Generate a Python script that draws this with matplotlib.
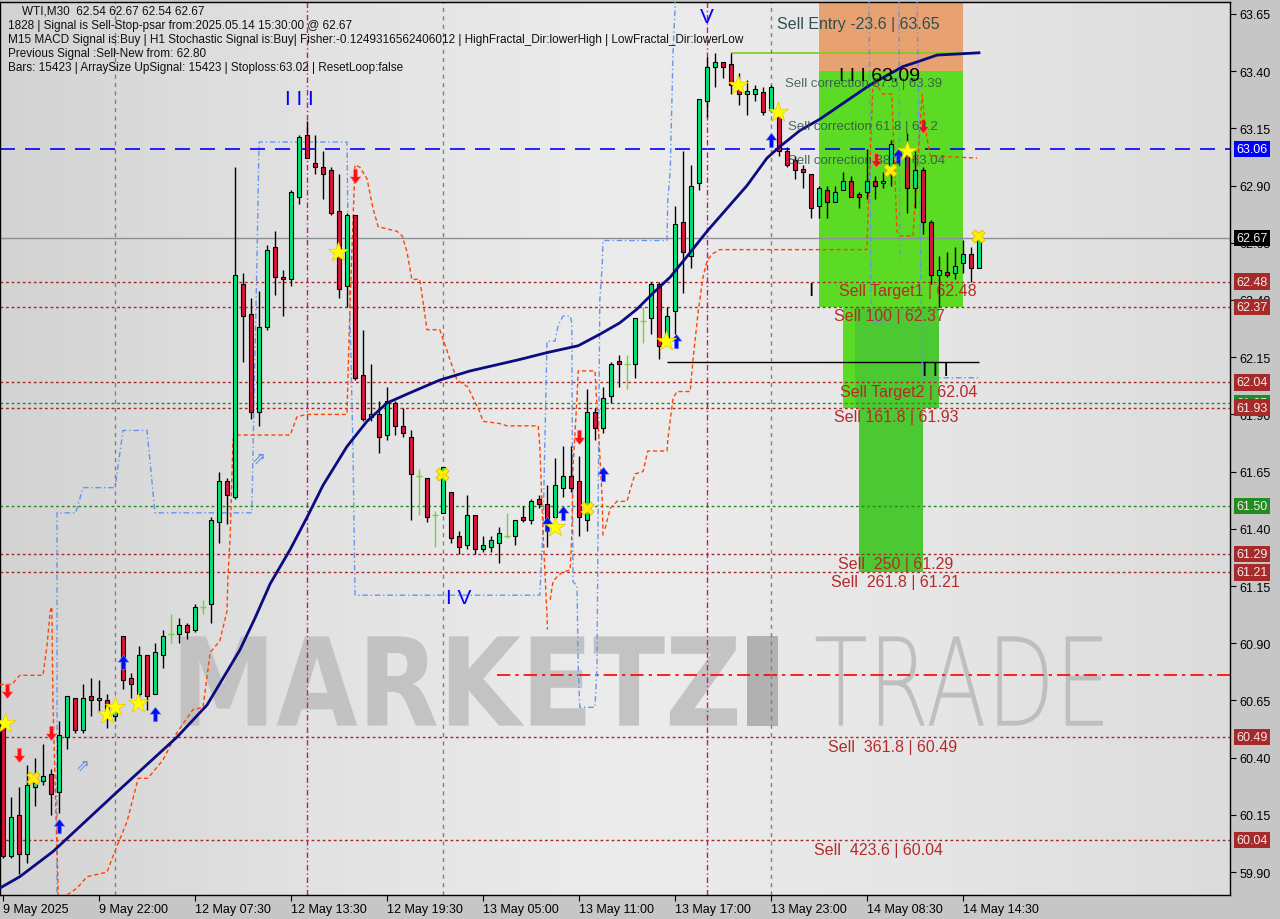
import matplotlib
matplotlib.use("Agg")
import matplotlib.pyplot as plt
import matplotlib.transforms as mtransforms
from matplotlib.patches import Rectangle, PathPatch
from matplotlib.textpath import TextPath
from matplotlib.font_manager import FontProperties
from matplotlib.colors import LinearSegmentedColormap
import numpy as np

# ---- candles (WTI M30), bar 0 = 9 May 16:00 ... bar 122 = 14 May 15:30 ----
opens = [60.53, 59.97, 60.15, 59.98, 60.27, 60.30, 60.33, 60.25, 60.49, 60.66,
         60.52, 60.67, 60.65, 60.65, 60.58, 60.93, 60.75, 60.68, 60.85, 60.68,
         60.85, 60.94, 60.94, 60.98, 60.96, 61.06, 61.07, 61.43, 61.61, 61.54,
         62.47, 62.34, 61.91, 62.28, 62.63, 62.50, 62.49, 62.85, 63.12, 63.00,
         62.98, 62.97, 62.79, 62.46, 62.77, 62.07, 61.89, 61.90, 61.81, 61.95,
         61.85, 61.80, 61.63, 61.62, 61.46, 61.47, 61.56, 61.37, 61.33, 61.46,
         61.31, 61.32, 61.34, 61.37, 61.37, 61.45, 61.44, 61.53, 61.51, 61.45,
         61.58, 61.63, 61.61, 61.44, 61.91, 61.84, 61.98, 62.13, 62.12, 62.12,
         62.31, 62.32, 62.47, 62.22, 62.35, 62.74, 62.59, 62.91, 63.27, 63.42,
         63.44, 63.43, 63.33, 63.30, 63.30, 63.31, 63.23, 63.20, 63.05, 63.01,
         62.97, 62.95, 62.81, 62.88, 62.83, 62.88, 62.92, 62.86, 62.87, 62.92,
         62.91, 62.95, 63.03, 63.05, 62.89, 62.97, 62.74, 62.51, 62.52, 62.52,
         62.56, 62.60, 62.54]
highs = [60.55, 60.23, 60.27, 60.37, 60.40, 60.46, 60.35, 60.56, 60.67, 60.66,
         60.72, 60.75, 60.74, 60.68, 60.61, 60.93, 60.77, 60.89, 60.85, 60.90,
         60.96, 61.03, 61.01, 60.99, 61.07, 61.09, 61.45, 61.65, 61.62, 62.98,
         62.52, 62.41, 62.44, 62.64, 62.70, 62.53, 62.88, 63.12, 63.18, 63.12,
         63.05, 62.98, 62.95, 62.78, 62.77, 62.27, 62.12, 61.96, 62.02, 61.96,
         61.93, 61.83, 61.66, 61.62, 61.48, 61.67, 61.56, 61.39, 61.55, 61.46,
         61.37, 61.37, 61.41, 61.47, 61.44, 61.50, 61.53, 61.55, 61.59, 61.71,
         61.76, 61.76, 61.72, 62.01, 61.93, 62.02, 62.13, 62.16, 62.16, 62.32,
         62.37, 62.48, 62.48, 62.37, 62.81, 63.05, 62.99, 63.28, 63.46, 63.48,
         63.44, 63.48, 63.39, 63.36, 63.34, 63.33, 63.34, 63.23, 63.07, 63.03,
         62.99, 62.95, 62.90, 62.90, 62.90, 62.96, 62.94, 62.87, 63.06, 62.94,
         62.96, 63.10, 63.06, 63.13, 63.05, 62.98, 62.75, 62.59, 62.61, 62.63,
         62.66, 62.63, 62.67]
lows = [59.96, 59.96, 59.89, 59.94, 60.19, 60.28, 60.15, 60.16, 60.44, 60.51,
        60.51, 60.58, 60.60, 60.53, 60.56, 60.70, 60.66, 60.66, 60.61, 60.68,
        60.79, 60.90, 60.90, 60.92, 60.95, 61.03, 60.99, 61.34, 61.42, 61.53,
        62.13, 61.88, 61.85, 62.27, 62.42, 62.33, 62.46, 62.82, 63.02, 62.95,
        62.84, 62.77, 62.41, 62.37, 62.05, 61.87, 61.87, 61.73, 61.79, 61.81,
        61.80, 61.44, 61.46, 61.43, 61.32, 61.47, 61.34, 61.29, 61.31, 61.29,
        61.30, 61.30, 61.25, 61.36, 61.33, 61.43, 61.42, 61.49, 61.32, 61.41,
        61.54, 61.56, 61.37, 61.39, 61.79, 61.82, 61.95, 62.02, 62.01, 62.06,
        62.21, 62.25, 62.14, 62.22, 62.25, 62.43, 62.54, 62.88, 63.20, 63.33,
        63.37, 63.30, 63.25, 63.21, 63.27, 63.21, 63.22, 63.03, 62.98, 62.93,
        62.89, 62.76, 62.76, 62.76, 62.83, 62.88, 62.85, 62.80, 62.84, 62.84,
        62.89, 62.90, 62.99, 62.78, 62.80, 62.69, 62.47, 62.37, 62.50, 62.49,
        62.52, 62.48, 62.54]
closes = [59.97, 60.14, 59.98, 60.28, 60.29, 60.32, 60.24, 60.50, 60.67, 60.52,
          60.66, 60.65, 60.66, 60.60, 60.60, 60.74, 60.72, 60.85, 60.67, 60.86,
          60.93, 60.94, 60.98, 60.95, 61.06, 61.06, 61.44, 61.61, 61.55, 62.51,
          62.33, 61.91, 62.28, 62.62, 62.50, 62.49, 62.87, 63.11, 63.02, 62.98,
          62.95, 62.78, 62.45, 62.77, 62.06, 61.88, 61.90, 61.80, 61.96, 61.85,
          61.82, 61.64, 61.63, 61.45, 61.46, 61.67, 61.36, 61.32, 61.46, 61.31,
          61.33, 61.35, 61.38, 61.37, 61.44, 61.44, 61.52, 61.51, 61.39, 61.59,
          61.63, 61.58, 61.45, 61.91, 61.84, 61.97, 62.12, 62.12, 62.12, 62.32,
          62.31, 62.47, 62.20, 62.33, 62.73, 62.61, 62.90, 63.28, 63.42, 63.44,
          63.42, 63.34, 63.30, 63.31, 63.32, 63.22, 63.33, 63.05, 62.99, 62.97,
          62.96, 62.80, 62.89, 62.83, 62.87, 62.92, 62.85, 62.85, 62.92, 62.90,
          62.92, 63.08, 63.05, 62.89, 62.97, 62.74, 62.51, 62.53, 62.51, 62.55,
          62.60, 62.54, 62.67]

time_ticks = [0, 12, 24, 36, 48, 60, 72, 84, 96, 108, 120]
time_labels = ["9 May 2025", "9 May 22:00", "12 May 07:30", "12 May 13:30",
               "12 May 19:30", "13 May 05:00", "13 May 11:00", "13 May 17:00",
               "13 May 23:00", "14 May 08:30", "14 May 14:30"]
price_ticks = [59.90, 60.15, 60.40, 60.65, 60.90, 61.15, 61.40, 61.65,
               61.90, 62.15, 62.40, 62.65, 62.90, 63.15, 63.40, 63.65]

# moving average (bar, price)
ma_bar = [-0.4, 2.1, 6.25, 14.25, 21.75, 25.5, 29.6, 31.5, 33.4, 35.9, 38, 40,
          43, 45.5, 48, 51.25, 54.6, 58.4, 64.6, 68, 71.9, 74.6, 77.1, 79.25,
          81.25, 83.4, 85.5, 88, 90.5, 93, 95.5, 97.1, 99.6, 102.1, 108.4, 112.5,
          114.25, 116.75, 122]
ma_price = [59.83, 59.88, 59.99, 60.25, 60.49, 60.63, 60.87, 61.01, 61.16, 61.31,
            61.45, 61.59, 61.76, 61.87, 61.95, 62.00, 62.05, 62.09, 62.14, 62.17,
            62.20, 62.25, 62.30, 62.36, 62.43, 62.50, 62.59, 62.70, 62.80, 62.90,
            63.02, 63.07, 63.14, 63.19, 63.34, 63.42, 63.44, 63.47, 63.48]

# blue step channel (several pieces)
chan_bars = [
    [6.75, 6.75, 9.1, 10, 14, 15, 18, 19, 31.1, 31.25, 31.75, 32, 43, 43.1, 43.75,
     44, 67.1, 67.5, 68, 69, 69.4, 70, 70.9, 71.1, 71.25, 71.75, 71.9, 72.1, 74,
     74.25, 74.4, 74.6, 74.9, 75, 83, 83.1, 83.4, 83.6, 83.75, 84.1],
    [108.25, 108.5, 109, 110.9],
    [112, 112.1],
    [114.25, 114.6, 114.9, 121.9],
]
chan_prices = [
    [59.81, 61.47, 61.47, 61.58, 61.58, 61.83, 61.83, 61.47, 61.47, 61.74, 62.58,
     63.09, 63.09, 62.77, 61.74, 61.11, 61.11, 61.39, 62.22, 62.22, 62.29, 62.33,
     62.33, 62.30, 61.17, 61.15, 60.80, 60.62, 60.62, 60.80, 61.53, 62.40, 62.55,
     62.66, 62.66, 62.84, 62.96, 63.25, 63.48, 63.75],
    [63.75, 62.40, 62.30, 62.30],
    [63.75, 62.58],
    [63.75, 62.84, 62.06, 62.06],
]

# orange dashed stop line (psar-like), several pieces
sar_bars = [
    [-0.4, 1.1, 1.6, 2.1, 5, 5.5, 5.9, 6.1, 6.25, 6.9],
    [8, 9.25, 10.5, 13, 13.75, 15.5, 16.9, 18.1, 20, 21.75, 23.75, 25, 25.9, 27.1,
     28, 28.1, 28.4, 28.75, 29.25, 35.9, 36.75, 38, 43, 43.1, 43.4, 44, 44.6, 45.5,
     46.25, 46.9, 49.25, 49.9, 50.5, 51.1, 52.1, 53, 54.6, 56.75, 58.1, 59.6, 60,
     62.1, 63, 66.9, 67.1, 67.5, 68, 68.05],
    [68.4, 68.75, 69.25, 69.9, 70.9, 71.1, 71.25, 71.75, 71.9, 74, 74.1, 74.4,
     74.9, 75],
    [75.25, 75.9, 76.75, 78, 78.4, 79, 80, 80.6, 83, 83.1, 83.75, 84.25, 85.9,
     86.25, 86.9, 87.5, 88, 88.6, 89.6, 108, 108.1, 108.4, 108.75, 110, 111.1,
     111.25, 111.75, 112.1, 113.75, 114.25, 114.9, 115.25, 115.9, 121.75],
]
sar_prices = [
    [60.72, 60.72, 60.74, 60.76, 60.76, 60.89, 61.04, 61.06, 60.63, 59.80],
    [59.80, 59.83, 59.88, 59.90, 59.97, 60.12, 60.31, 60.31, 60.39, 60.51, 60.61,
     60.62, 60.86, 60.91, 61.04, 61.18, 61.37, 61.79, 61.81, 61.81, 61.89, 61.90,
     61.90, 62.04, 62.40, 62.99, 62.98, 62.93, 62.80, 62.72, 62.70, 62.68, 62.61,
     62.49, 62.49, 62.27, 62.27, 62.05, 62.02, 61.91, 61.87, 61.86, 61.85, 61.85,
     61.76, 61.39, 61.02, 60.96],
    [61.09, 61.17, 61.19, 61.21, 61.22, 61.37, 61.67, 61.97, 62.09, 62.09, 62.02,
     61.85, 61.53, 61.37],
    [61.40, 61.49, 61.52, 61.52, 61.57, 61.64, 61.65, 61.74, 61.74, 61.79, 61.97,
     62.00, 62.00, 62.14, 62.35, 62.50, 62.57, 62.60, 62.62, 62.62, 62.75, 63.02,
     63.36, 63.30, 63.30, 63.16, 62.70, 62.68, 62.68, 62.96, 63.30, 63.16, 63.03,
     63.02],
]

# signal marks
sell_arrow_bar = [0.5, 2, 6, 44, 72, 109.1, 115]
sell_arrow_price = [60.69, 60.41, 60.51, 62.94, 61.80, 63.01, 63.16]
buy_arrow_bar = [7, 15, 19, 68, 70, 75, 84.1, 96, 111.9]
buy_arrow_price = [60.10, 60.82, 60.59, 61.42, 61.47, 61.64, 62.22, 63.10, 63.03]
hollow_arrow_bar = [9.9, 31.9]
hollow_arrow_price = [60.37, 61.71]
star_bar = [0.25, 13, 14, 16.9, 41.9, 69, 82.9, 91.9, 96.9, 113]
star_price = [60.55, 60.59, 60.62, 60.64, 62.61, 61.41, 62.22, 63.34, 63.22, 63.05]
cross_bar = [3.75, 54.9, 73, 110.9, 121.9]
cross_price = [60.31, 61.64, 61.49, 62.97, 62.68]

# horizontal levels
brown_levels = [62.48, 62.37, 62.04, 61.93, 61.29, 61.21, 60.49, 60.04]
green_levels = [61.95, 61.50]
stop_level = 63.06
last_price = 62.67
mid_line = 60.76
iii_level = 62.13
top_level = 63.48

# sell projection zones: bar from, bar to, low, high
zone_x0 = [102, 102, 105, 106.5, 107]
zone_x1 = [120, 120, 117, 117, 115]
zone_lo = [63.40, 62.37, 61.93, 61.93, 61.21]
zone_hi = [63.75, 63.40, 62.37, 62.37, 61.93]
zone_col = ["#E8A272", "#5CDB25", "#5CDB25", "#4CC832", "#4CC832"]

sell_text = ["Sell Target1 | 62.48", "Sell 100 | 62.37", "Sell Target2 | 62.04",
             "Sell 161.8 | 61.93", "Sell  250 | 61.29", "Sell  261.8 | 61.21",
             "Sell  361.8 | 60.49", "Sell  423.6 | 60.04"]
sell_text_bar = [113.1, 110.75, 113.25, 111.6, 111.6, 111.6, 111.25, 109.4]
sell_text_price = [62.44, 62.33, 62.00, 61.89, 61.25, 61.17, 60.45, 60.00]
corr_text = ["Sell correction 87.5 | 63.39", "Sell correction 61.8 | 63.2",
             "Sell correction 38.2 | 63.04"]
corr_text_bar = [97.7, 98.1, 98.1]
corr_text_price = [63.35, 63.16, 63.01]

header = ["WTI,M30  62.54 62.67 62.54 62.67",
          "1828 | Signal is Sell-Stop-psar from:2025.05.14 15:30:00 @ 62.67",
          "M15 MACD Signal is:Buy | H1 Stochastic Signal is:Buy| Fisher:-0.124931656240601"
          "2 | HighFractal_Dir:lowerHigh | LowFractal_Dir:lowerLow",
          "Previous Signal :Sell-New from: 62.80",
          "Bars: 15423 | ArraySize UpSignal: 15423 | Stoploss:63.02 | ResetLoop:false"]

FONT = ["Liberation Sans", "DejaVu Sans"]
plt.rcParams["font.family"] = FONT

fig = plt.figure(figsize=(12.8, 9.2), dpi=100, facecolor="#C6C6C6")
ax = fig.add_axes([0, 24 / 920, 1230 / 1280, 893 / 920])
x_lo, x_hi = -0.375, 153.375
y_lo, y_hi = 59.80, 63.702
ax.set_xlim(x_lo, x_hi)
ax.set_ylim(y_lo, y_hi)

# background gradient
bg = LinearSegmentedColormap.from_list(
    "bg", ["#D3D3D3", "#E2E2E2", "#ECECEC", "#E6E6E6", "#DCDCDC"])
ax.imshow(np.linspace(0, 1, 256)[None, :], cmap=bg, aspect="auto",
          extent=[x_lo, x_hi, y_lo, y_hi], zorder=0)


def fit_text(s, x0, x1, y0, y1, fp, color, alpha):
    tp = TextPath((0, 0), s, size=1, prop=fp)
    bb = tp.get_extents()
    tr = (mtransforms.Affine2D().translate(-bb.x0, -bb.y0)
          .scale((x1 - x0) / bb.width, (y1 - y0) / bb.height).translate(x0, y0))
    ax.add_patch(PathPatch(tr.transform_path(tp), fc=color, ec="none",
                           alpha=alpha, zorder=0.5))


# watermark
fit_text("MARKETZ", 22.2, 91.75, 60.54, 60.93,
         FontProperties(family="DejaVu Sans", weight="bold"), "#BDBDBD", 0.85)
fit_text("I", 93.0, 96.9, 60.54, 60.93,
         FontProperties(family="DejaVu Sans", weight="bold"), "#A8A8A8", 0.85)
fit_text("TRADE", 101.6, 137.5, 60.54, 60.93,
         FontProperties(family="DejaVu Sans", weight="light"), "#BBBBBB", 0.9)

# zones
for x0, x1, lo, hi, col in zip(zone_x0, zone_x1, zone_lo, zone_hi, zone_col):
    ax.add_patch(Rectangle((x0, lo), x1 - x0, hi - lo, fc=col, ec="none", zorder=1))

# horizontal levels
for lv in brown_levels:
    ax.axhline(lv, color="#A52A2A", lw=1, ls=(0, (2, 2)), zorder=2)
for lv in green_levels:
    ax.axhline(lv, color="#228B22", lw=1, ls=(0, (2, 2)), zorder=2)
ax.axhline(stop_level, color="#0000FF", lw=1.2, ls=(0, (9, 6)), zorder=2)
ax.axhline(last_price, color="#8A9098", lw=1, zorder=2)
ax.hlines(mid_line, 61.75, x_hi, color="#FF0000", lw=1.2, ls=(0, (8, 3, 2, 3)), zorder=2)
ax.hlines(iii_level, 83, 122, color="black", lw=1, zorder=2)
ax.hlines(top_level, 91, 122, color="#7CCD1A", lw=1.2, zorder=2)

# vertical markers
for vb in [14, 55, 96]:
    ax.axvline(vb, color="#808080", lw=1, ls=(0, (3, 3)), zorder=2)
for vb in [38, 88]:
    ax.axvline(vb, color="#C71585", lw=1, ls=(0, (4, 2, 1, 2)), zorder=2)

# channel and stop lines
for bx, py in zip(chan_bars, chan_prices):
    ax.plot(bx, py, color="#6495ED", lw=1, ls=(0, (4, 2, 1, 2)), zorder=3)
for bx, py in zip(sar_bars, sar_prices):
    ax.plot(bx, py, color="#FF4500", lw=1, ls=(0, (3, 2)), zorder=3)

# candles
for i, (o, h, l, c) in enumerate(zip(opens, highs, lows, closes)):
    if o == c:
        ax.vlines(i, l, h, color="#6FD33A", lw=1, zorder=4)
        ax.hlines(c, i - 0.32, i + 0.32, color="#6FD33A", lw=1, zorder=4)
        continue
    ax.vlines(i, l, h, color="black", lw=1, zorder=4)
    body = max(abs(c - o), 0.012)
    col = "#00E676" if c > o else "#DC143C"
    ax.add_patch(Rectangle((i - 0.31, min(o, c)), 0.62, body, fc=col,
                           ec="black", lw=0.8, zorder=5))

# moving average
ax.plot(ma_bar, ma_price, color="#0B0B80", lw=2, zorder=6)

# signal marks
up = [(-0.28, -1), (0.28, -1), (0.28, 0.05), (0.75, 0.05), (0, 1),
      (-0.75, 0.05), (-0.28, 0.05), (-0.28, -1)]
down = [(x, -y) for x, y in up]
ax.scatter(sell_arrow_bar, sell_arrow_price, marker=down, s=110, c="#FF1010",
           edgecolors="#FF9090", linewidths=0.4, zorder=8)
ax.scatter(buy_arrow_bar, buy_arrow_price, marker=up, s=110, c="#0010F0",
           edgecolors="#8090FF", linewidths=0.4, zorder=8)
for bx, py in zip(hollow_arrow_bar, hollow_arrow_price):
    ax.text(bx, py, "\u21D7", color="#5A8FE0", fontsize=12, ha="center",
            va="center", family="DejaVu Sans", zorder=8)
ax.scatter(star_bar, star_price, marker="*", s=230, c="#FFFF00",
           edgecolors="#E6C800", linewidths=0.5, zorder=8)
ax.scatter(cross_bar, cross_price, marker="X", s=90, c="#FFEE00",
           edgecolors="#D8B400", linewidths=0.5, zorder=8)

# wave labels
ax.text(37.1, 63.28, "I I I", color="#0000FF", fontsize=15, ha="center", va="center", zorder=9)
ax.text(88, 63.64, "V", color="#0000FF", fontsize=15, ha="center", va="center", zorder=9)
ax.text(56.9, 61.10, "I V", color="#0000FF", fontsize=15, ha="center", va="center", zorder=9)
ax.text(101, 62.44, "I", color="black", fontsize=14, ha="center", va="center", zorder=9)
ax.text(116.5, 62.09, "I I I", color="black", fontsize=14, ha="center", va="center", zorder=9)

# sell labels
ax.text(106.9, 63.61, "Sell Entry -23.6 | 63.65", color="#2F4F4F", fontsize=11.5,
        ha="center", va="center", zorder=9)
for s, bx, py in zip(corr_text, corr_text_bar, corr_text_price):
    ax.text(bx, py, s, color="#2F4F4F", fontsize=9.5, ha="left", va="center",
            alpha=0.85, zorder=9)
ax.text(109.6, 63.38, "I I I 63.09", color="black", fontsize=14, ha="center",
        va="center", zorder=9)
for s, bx, py in zip(sell_text, sell_text_bar, sell_text_price):
    ax.text(bx, py, s, color="#B52A2A", fontsize=11.5, ha="center", va="center", zorder=9)

# axes styling
for sp in ax.spines.values():
    sp.set_color("black")
    sp.set_linewidth(1)
ax.yaxis.tick_right()
ax.set_yticks(price_ticks)
ax.set_yticklabels([f"{p:.2f}" for p in price_ticks])
ax.tick_params(axis="y", length=4, pad=3, labelsize=9, colors="black")
ax.set_xticks(time_ticks)
ax.set_xticklabels(time_labels)
ax.tick_params(axis="x", length=4, pad=2, labelsize=9, colors="black")
for lbl in ax.get_xticklabels():
    lbl.set_ha("left")

# price boxes on the axis
boxes = [(61.95, "#228B22"), (61.50, "#228B22"), (63.06, "#0000FF"), (62.67, "#000000")]
boxes += [(lv, "#A52A2A") for lv in brown_levels]
blend = mtransforms.blended_transform_factory(ax.transAxes, ax.transData)
for lv, col in boxes:
    ax.text(1.0 + 6 / 1230, lv, f"{lv:.2f}", transform=blend,
            color="#F8E8E8" if col != "#0000FF" else "white",
            fontsize=9, ha="left", va="center", clip_on=False, zorder=12,
            bbox=dict(boxstyle="square,pad=0.18", fc=col, ec="none"))

# header
fig.text(22 / 1280, 1 - 12 / 920, header[0], fontsize=8.5, color="#101010", va="center")
for k, line in enumerate(header[1:]):
    fig.text(8 / 1280, 1 - (26 + 14 * k) / 920, line, fontsize=8.5, color="#101010", va="center")

fig.savefig("out.png", dpi=100, facecolor=fig.get_facecolor())
